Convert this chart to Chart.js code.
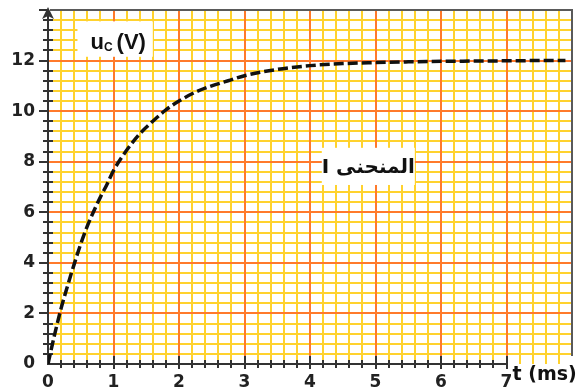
<!DOCTYPE html>
<html><head><meta charset="utf-8">
<script src="https://cdn.jsdelivr.net/npm/chart.js@4/dist/chart.umd.min.js"></script>
<style>html,body{margin:0;padding:0;background:#fff;overflow:hidden;}canvas{display:block;}</style>
</head><body>
<canvas id="c" width="582" height="389"></canvas>
<script>
// ---- data ----
const timeMs  = [0, 0.1, 0.2, 0.3, 0.4, 0.5, 0.6, 0.7, 0.8, 0.9, 1.0, 1.2, 1.4, 1.6, 1.8, 2.0, 2.25, 2.5, 2.75, 3.0, 3.5, 4.0, 4.5, 5.0, 5.5, 6.0, 6.5, 7.0, 7.5, 7.9];
const voltage = [0, 1.15, 2.2, 3.1, 3.95, 4.75, 5.45, 6.05, 6.6, 7.1, 7.65, 8.45, 9.1, 9.6, 10.05, 10.4, 10.75, 11.0, 11.2, 11.4, 11.65, 11.8, 11.88, 11.92, 11.95, 11.97, 11.98, 11.99, 12.0, 12.0];
const xTickLabels = [0, 1, 2, 3, 4, 5, 6, 7];
const yTickLabels = [0, 2, 4, 6, 8, 10, 12];
const xAxisTitle = 't (ms)';
const yAxisTitleMain = 'u';
const yAxisTitleSub = 'C';
const yAxisTitleUnit = '(V)';
const curveLabel = 'المنحنى I';

const X_MAX = 8, Y_MAX = 14, X_MINOR = 0.2, Y_MINOR = 0.4;
const YELLOW = '#FFD22E', ORANGE = '#FF7A2B', GREY = '#5a5a5a', INK = '#222';

const near = (a, b) => Math.abs(a - b) < 1e-6;
const isInt = v => near(v, Math.round(v));
const xMajor = v => isInt(v);
const yMajor = v => isInt(v) && Math.round(v) % 2 === 0;

function gridColor(isMajor, max) {
  return c => {
    const v = c.tick ? c.tick.value : 0;
    if (near(v, 0) || near(v, max)) return 'rgba(0,0,0,0)';
    return isMajor(v) ? ORANGE : YELLOW;
  };
}

const decor = {
  id: 'decor',
  beforeDatasetsDraw(chart) {
    const {ctx, chartArea: a, scales: {x, y}} = chart;
    const ln = (x1, y1, x2, y2) => { ctx.beginPath(); ctx.moveTo(x1, y1); ctx.lineTo(x2, y2); ctx.stroke(); };
    ctx.save();
    // orange major lines redrawn on top of the yellow ones
    ctx.strokeStyle = ORANGE; ctx.lineWidth = 2;
    for (let i = 1; i < X_MAX; i++) { const p = Math.round(x.getPixelForValue(i)); ln(p, a.top, p, a.bottom); }
    for (let v = 2; v < Y_MAX; v += 2) { const p = Math.round(y.getPixelForValue(v)); ln(a.left, p, a.right, p); }
    // grey frame (top, right)
    ctx.strokeStyle = GREY; ctx.lineWidth = 2;
    const top = Math.round(y.getPixelForValue(Y_MAX)), right = Math.round(x.getPixelForValue(X_MAX));
    ln(a.left + 2, top, right + 1, top);
    ln(right, top, right, a.bottom - 8);
    // black axes
    ctx.strokeStyle = '#333'; ctx.fillStyle = '#333'; ctx.lineWidth = 2;
    const x0 = Math.round(x.getPixelForValue(0)), y0 = Math.round(y.getPixelForValue(0));
    const x7 = Math.round(x.getPixelForValue(xTickLabels[xTickLabels.length - 1]));
    ln(x0, y0, x0, top + 6);
    ln(x0 - 1, y0, x7 + 1, y0);
    // arrow head on the y axis
    ctx.beginPath();
    ctx.moveTo(x0, top - 3); ctx.lineTo(x0 - 6, top + 9); ctx.lineTo(x0, top + 6); ctx.lineTo(x0 + 6, top + 9);
    ctx.closePath(); ctx.fill();
    // tick marks
    ctx.lineWidth = 2;
    for (let i = 1; i <= Math.round(Y_MAX / Y_MINOR); i++) {
      const v = i * 2 / 5; const p = Math.round(y.getPixelForValue(v));
      if (yMajor(v)) ln(x0 - 9, p, x0 + 1, p); else ln(x0 - 5, p, x0 + 5, p);
    }
    for (let i = 1; i <= xTickLabels[xTickLabels.length - 1] * 5; i++) {
      const v = i / 5; const p = Math.round(x.getPixelForValue(v));
      if (xMajor(v)) ln(p, y0 - 8, p, y0 + 5); else ln(p, y0 - 4, p, y0 + 4);
    }
    ctx.restore();
  },
  afterDatasetsDraw(chart) {
    const {ctx, scales: {x, y}} = chart;
    ctx.save();
    // u_C (V) box
    let bx1 = x.getPixelForValue(0.45), bx2 = x.getPixelForValue(1.6);
    let by1 = y.getPixelForValue(13.55), by2 = y.getPixelForValue(12.15);
    ctx.fillStyle = '#fff'; ctx.fillRect(bx1, by1, bx2 - bx1, by2 - by1);
    ctx.fillStyle = '#111'; ctx.textBaseline = 'alphabetic'; ctx.textAlign = 'left';
    let tx = bx1 + 13, base = by1 + 28;
    ctx.font = 'bold 22px "Liberation Sans", Arial, sans-serif';
    ctx.fillText(yAxisTitleMain, tx, base); tx += ctx.measureText(yAxisTitleMain).width;
    ctx.font = 'bold 12px "Liberation Sans", Arial, sans-serif';
    ctx.fillText(yAxisTitleSub, tx, base + 2); tx += ctx.measureText(yAxisTitleSub).width + 4;
    ctx.font = 'bold 22px "Liberation Sans", Arial, sans-serif';
    ctx.fillText(yAxisTitleUnit, tx, base);
    // curve label box
    bx1 = x.getPixelForValue(4.18); bx2 = x.getPixelForValue(5.6);
    by1 = y.getPixelForValue(8.55); by2 = y.getPixelForValue(7.08);
    ctx.fillStyle = '#fff'; ctx.fillRect(bx1, by1, bx2 - bx1, by2 - by1);
    ctx.fillStyle = '#111'; ctx.font = 'bold 20px "DejaVu Sans", sans-serif';
    ctx.direction = 'rtl'; ctx.textAlign = 'center'; ctx.textBaseline = 'middle';
    ctx.fillText(curveLabel, (bx1 + bx2) / 2, (by1 + by2) / 2 + 1);
    ctx.direction = 'ltr';
    // t (ms)
    const x7 = x.getPixelForValue(xTickLabels[xTickLabels.length - 1]);
    ctx.textAlign = 'left'; ctx.textBaseline = 'middle';
    ctx.font = 'bold 19px "DejaVu Sans", sans-serif';
    ctx.fillText(xAxisTitle, x7 + 6, y.getPixelForValue(0) + 11);
    ctx.restore();
  }
};

new Chart(document.getElementById('c'), {
  type: 'line',
  data: {
    datasets: [{
      data: timeMs.map((t, i) => ({x: t, y: voltage[i]})),
      borderColor: '#111', borderWidth: 3.5, borderDash: [10, 4],
      pointRadius: 0, fill: false, cubicInterpolationMode: 'monotone'
    }]
  },
  plugins: [decor],
  options: {
    responsive: false, animation: false,
    layout: {padding: {top: 10, right: 10, left: 0, bottom: 0}},
    plugins: {legend: {display: false}, tooltip: {enabled: false}},
    scales: {
      x: {
        type: 'linear', min: 0, max: X_MAX,
        afterBuildTicks: s => { s.ticks = []; for (let i = 0; i <= Math.round(X_MAX / X_MINOR); i++) s.ticks.push({value: i / 5}); },
        afterFit: s => { s.height = 25; s.paddingLeft = 0; s.paddingRight = 0; },
        border: {display: false},
        grid: {color: gridColor(xMajor, X_MAX), lineWidth: 2, drawTicks: false},
        ticks: {
          autoSkip: false, maxRotation: 0, padding: 8, color: INK,
          font: {family: '"DejaVu Sans", sans-serif', weight: 'bold', size: 17},
          callback: v => (isInt(v) && xTickLabels.includes(Math.round(v))) ? String(Math.round(v)) : ''
        }
      },
      y: {
        type: 'linear', min: 0, max: Y_MAX,
        afterBuildTicks: s => { s.ticks = []; for (let i = 0; i <= Math.round(Y_MAX / Y_MINOR); i++) s.ticks.push({value: i * 2 / 5}); },
        afterFit: s => { s.width = 48; s.paddingTop = 0; s.paddingBottom = 0; },
        border: {display: false},
        grid: {color: gridColor(yMajor, Y_MAX), lineWidth: 2, drawTicks: false},
        ticks: {
          autoSkip: false, padding: 13, color: INK,
          font: {family: '"DejaVu Sans", sans-serif', weight: 'bold', size: 17},
          callback: v => (isInt(v) && yTickLabels.includes(Math.round(v))) ? String(Math.round(v)) : ''
        }
      }
    }
  }
});
</script>
</body></html>
